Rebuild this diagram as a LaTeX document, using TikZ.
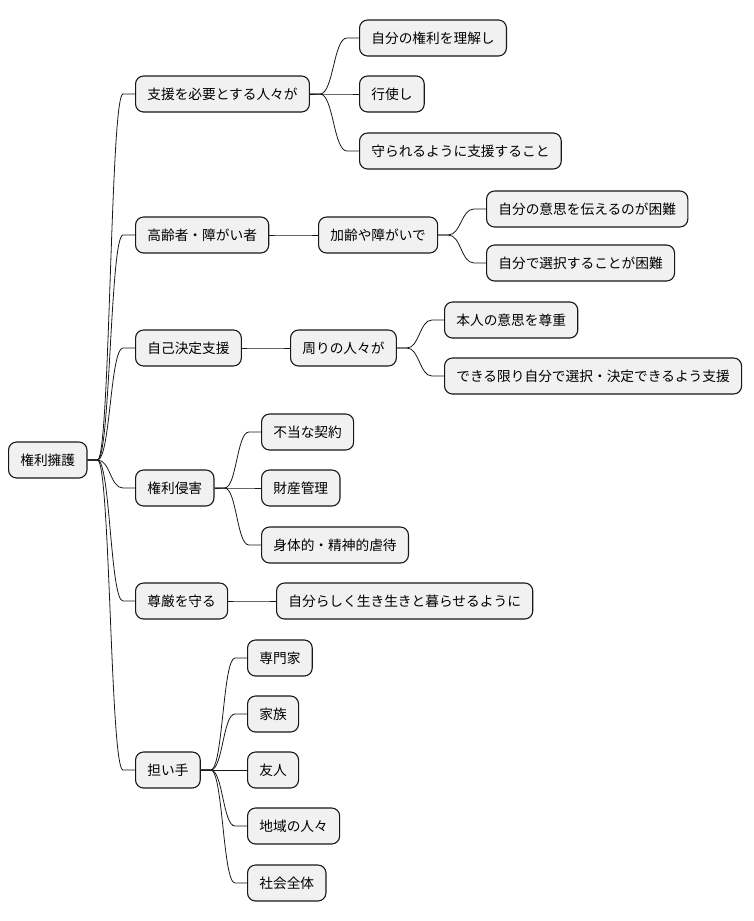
\documentclass[tikz,border=0pt]{standalone}
\usepackage{fontspec}
\newfontfamily\jpfont{Noto Sans CJK JP}
\usetikzlibrary{calc}
\definecolor{boxfill}{HTML}{F1F1F1}
\definecolor{boxline}{HTML}{181818}

\tikzset{
    topic/.style={draw=boxline, fill=boxfill, line width=1.1pt, rounded corners=8pt,
        minimum height=36pt, inner xsep=11.8pt, anchor=west,
        font=\jpfont\fontsize{13.7}{16}\selectfont},
    link/.style={draw=boxline, line width=0.8pt}
}
\newcommand{\branch}[2]{%
    \path (#1.east) ++(10,0) coordinate (bs);
    \path (#2.west) ++(-12,0) coordinate (be);
    \draw[link] let \p1=(bs), \p2=(be) in (#1.east) -- (bs)
        .. controls (\x1/2+\x2/2,\y1) and (\x1/2+\x2/2,\y2) .. (be) -- (#2.west);}

\begin{document}
\begin{tikzpicture}[x=1pt,y=-1pt]
    \useasboundingbox (0,0) rectangle (754,921);

    % Root
    \node[topic] (root) at (8,460) {権利擁護};

    % Level 1
    \node[topic] (shien) at (135,94) {支援を必要とする人々が};
    \node[topic] (koreisha) at (135,235) {高齢者・障がい者};
    \node[topic] (jiko) at (135,348) {自己決定支援};
    \node[topic] (shingai) at (135,488) {権利侵害};
    \node[topic] (songen) at (135,601) {尊厳を守る};
    \node[topic] (ninaite) at (135,770) {担い手};

    % Support
    \node[topic] (rikai) at (359,38) {自分の権利を理解し};
    \node[topic] (koshi) at (359,94) {行使し};
    \node[topic] (mamoru) at (359,151) {守られるように支援すること};

    % Elderly / disabled
    \node[topic] (karei) at (318,235) {加齢や障がいで};
    \node[topic] (tsutaeru) at (486,209) {自分の意思を伝えるのが困難};
    \node[topic] (sentaku) at (486,263) {自分で選択することが困難};

    % Self-determination
    \node[topic] (mawari) at (290,348) {周りの人々が};
    \node[topic] (sonchou) at (444,320) {本人の意思を尊重};
    \node[topic] (kettei) at (444,376) {できる限り自分で選択・決定できるよう支援};

    % Infringement
    \node[topic] (keiyaku) at (261,432) {不当な契約};
    \node[topic] (zaisan) at (261,488) {財産管理};
    \node[topic] (gyakutai) at (261,545) {身体的・精神的虐待};

    % Dignity
    \node[topic] (kurashi) at (276,601) {自分らしく生き生きと暮らせるように};

    % Bearers
    \node[topic] (senmon) at (247,658) {専門家};
    \node[topic] (kazoku) at (247,714) {家族};
    \node[topic] (yujin) at (247,770) {友人};
    \node[topic] (chiiki) at (247,826) {地域の人々};
    \node[topic] (shakai) at (247,883) {社会全体};

    % Connectors
    \foreach \c in {shien,koreisha,jiko,shingai,songen,ninaite} {\branch{root}{\c}}
    \foreach \c in {rikai,koshi,mamoru} {\branch{shien}{\c}}
    \branch{koreisha}{karei}
    \foreach \c in {tsutaeru,sentaku} {\branch{karei}{\c}}
    \branch{jiko}{mawari}
    \foreach \c in {sonchou,kettei} {\branch{mawari}{\c}}
    \foreach \c in {keiyaku,zaisan,gyakutai} {\branch{shingai}{\c}}
    \branch{songen}{kurashi}
    \foreach \c in {senmon,kazoku,yujin,chiiki,shakai} {\branch{ninaite}{\c}}
\end{tikzpicture}
\end{document}
